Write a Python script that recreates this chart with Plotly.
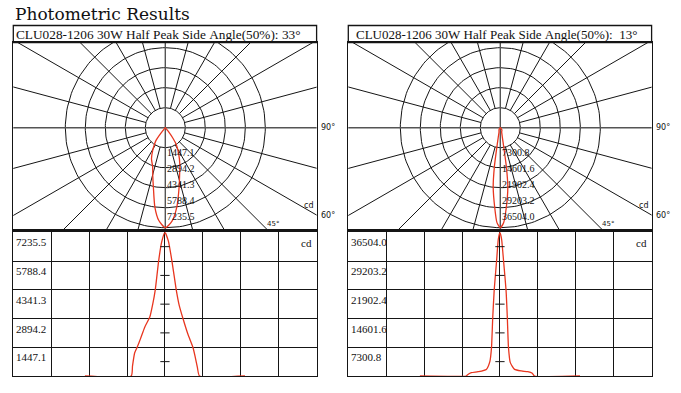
import numpy as np
import plotly.graph_objects as go

W, H = 681, 393

page_title = "Photometric Results"
header_a = "CLU028-1206 30W Half Peak Side Angle(50%): 33°"
header_b = "CLU028-1206 30W Half Peak Side Angle(50%):  13°"
unit = "cd"
angle_labels = ["90°", "60°", "45°"]

# Lamp A (33 deg beam) - angle (deg) vs intensity (cd)
angles_a = [-95, -40, -38.5, -36, -33, -29, -24, -18, -14.5, -11.5, -7.5, -4, 0,
            4, 8.3, 13.4, 17, 21.4, 27.3, 33.2, 36, 38.5, 41, 95]
cd_a = [0, 0, 506, 1158, 1447, 1881, 2460, 2967, 3618, 4341, 5788, 6729, 7235.5,
        6801, 5788, 4341, 3545, 2894, 2098, 1447, 941, 434, 0, 0]
peak_a = 7235.5
scale_a = ["1447.1", "2894.2", "4341.3", "5788.4", "7235.5"]

# Lamp B (13 deg beam)
angles_b = [-95, -40, -38.8, -34, -26, -16.2, -12, -10, -8.6, -6.8, -4, -2, 0,
            2, 4.3, 7.2, 8.8, 10.1, 12.3, 17.4, 25.3, 33, 38.4, 41, 95]
cd_b = [0, 0, 256, 840, 1095, 1679, 3650, 7301, 14602, 21902, 29203, 34679, 36504,
        34679, 29203, 21902, 14602, 7301, 3395, 1679, 1278, 1095, 694, 0, 0]
peak_b = 36504.0
scale_b = ["7300.8", "14601.6", "21902.4", "29203.2", "36504.0"]

ring_radii = [20, 40, 60, 80, 100]
spoke_step = 15

RED = "#e8361f"
INK = "#151515"
FONT = "Liberation Serif"

# geometry (pixels)
X0, X1, CX = 13.3, 316.6, 165.3
TT, TB = 25.5, 42.5
PB, CY = 229.3, 127.7
LT, LB = 232.3, 376.0
OFFSET = 335


def fx(p):
    return p / W


def fy(p):
    return 1 - p / H


panels = [
    dict(dx=0, header=header_a, hx=1, hs=13.3, ang=angles_a, cd=cd_a, peak=peak_a, scale=scale_a),
    dict(dx=OFFSET, header=header_b, hx=6, hs=13, ang=angles_b, cd=cd_b, peak=peak_b, scale=scale_b),
]

fig = go.Figure()
layout = dict(width=W, height=H, margin=dict(l=0, r=0, t=0, b=0),
              paper_bgcolor="white", plot_bgcolor="white", showlegend=False)
annotations = []
shapes = []

annotations.append(dict(text=page_title, x=fx(13), y=fy(14), xref="paper", yref="paper",
                        xanchor="left", yanchor="middle", showarrow=False,
                        font=dict(family="DejaVu Serif", size=17, color="#111")))

n = 0
for p in panels:
    dx = p["dx"]
    # ---- header box
    shapes.append(dict(type="rect", xref="paper", yref="paper",
                       x0=fx(X0 + dx), x1=fx(X1 + dx), y0=fy(TB), y1=fy(TT),
                       line=dict(color=INK, width=1.3)))
    annotations.append(dict(text=p["header"].replace(" ", "\u00a0"), x=fx(X0 + dx + p["hx"]),
                            y=fy(34), xref="paper", yref="paper", xanchor="left",
                            yanchor="middle", showarrow=False,
                            font=dict(family=FONT, size=p["hs"], color="#111")))

    # ---- polar subplot
    n += 1
    xr = "x" if n == 1 else f"x{n}"
    yr = "y" if n == 1 else f"y{n}"
    xk = "xaxis" if n == 1 else f"xaxis{n}"
    yk = "yaxis" if n == 1 else f"yaxis{n}"
    left, right = X0 - CX, X1 - CX
    top, bottom = CY - TB, -(PB - CY)
    common = dict(showgrid=False, zeroline=False, showticklabels=False, ticks="",
                  showline=True, mirror=True, linecolor=INK, linewidth=1.3, fixedrange=True)
    layout[xk] = dict(domain=[fx(X0 + dx), fx(X1 + dx)], range=[left, right], anchor=yr, **common)
    layout[yk] = dict(domain=[fy(PB), fy(TB)], range=[bottom, top], anchor=xr, **common)

    t = np.radians(np.arange(0, 361, 2))
    for r in ring_radii:
        fig.add_trace(go.Scatter(x=r * np.sin(t), y=r * np.cos(t), mode="lines",
                                 line=dict(color=INK, width=1), xaxis=xr, yaxis=yr,
                                 hoverinfo="skip"))
    for a in range(0, 360, spoke_step):
        ar = np.radians(a)
        if a % 90 == 0:
            r0, col, wd = 0, "#555", 1.4
        else:
            r0, col, wd = ring_radii[0], INK, 1
        fig.add_trace(go.Scatter(x=[r0 * np.sin(ar), 400 * np.sin(ar)],
                                 y=[r0 * np.cos(ar), 400 * np.cos(ar)], mode="lines",
                                 line=dict(color=col, width=wd), xaxis=xr, yaxis=yr,
                                 hoverinfo="skip"))
    th = np.radians(np.array(p["ang"], dtype=float))
    rr = np.array(p["cd"], dtype=float) / p["peak"] * ring_radii[-1]
    fig.add_trace(go.Scatter(x=rr * np.sin(th), y=-rr * np.cos(th), mode="lines",
                             line=dict(color=RED, width=1.3, shape="spline", smoothing=0.6),
                             xaxis=xr, yaxis=yr))
    for k, lab in enumerate(p["scale"]):
        frac = (k + 1) / len(p["scale"])
        annotations.append(dict(text=lab, x=0, y=-(frac * 80 + 9.3), xref=xr, yref=yr,
                                xanchor="left", yanchor="middle", xshift=0, showarrow=False,
                                font=dict(family=FONT, size=10, color="#111")))
    y60 = -right * np.tan(np.radians(30))
    annotations.append(dict(text=angle_labels[0], x=right, y=0, xref=xr, yref=yr,
                            xanchor="left", yanchor="middle", xshift=2, showarrow=False,
                            font=dict(family="DejaVu Sans", size=8, color="#111")))
    annotations.append(dict(text=angle_labels[1], x=right, y=y60, xref=xr, yref=yr,
                            xanchor="left", yanchor="middle", xshift=2, showarrow=False,
                            font=dict(family="DejaVu Sans", size=8, color="#111")))
    annotations.append(dict(text=angle_labels[2], x=-bottom, y=bottom, xref=xr, yref=yr,
                            xanchor="left", yanchor="bottom", xshift=-2, yshift=-1, showarrow=False,
                            font=dict(family="DejaVu Sans", size=7, color="#111")))
    annotations.append(dict(text=unit, x=right, y=y60, xref=xr, yref=yr,
                            xanchor="right", yanchor="bottom", xshift=-2, yshift=3, showarrow=False,
                            font=dict(family="DejaVu Sans", size=8, color="#111")))

    # ---- linear subplot
    n += 1
    xr = f"x{n}"
    yr = f"y{n}"
    xk = f"xaxis{n}"
    yk = f"yaxis{n}"
    lin = dict(zeroline=False, showticklabels=False, ticks="", showline=True, mirror=True,
               linecolor=INK, linewidth=1.3, showgrid=True, gridcolor=INK, gridwidth=1,
               fixedrange=True)
    layout[xk] = dict(domain=[fx(X0 + dx), fx(X1 + dx)], range=[-180, 180], tick0=0, dtick=45,
                      anchor=yr, **lin)
    layout[yk] = dict(domain=[fy(LB), fy(LT)], range=[0, p["peak"]], tick0=0,
                      dtick=p["peak"] / 5, anchor=xr, **lin)
    fig.add_trace(go.Scatter(x=p["ang"], y=p["cd"], mode="lines",
                             line=dict(color=RED, width=1.3, shape="spline", smoothing=0.5),
                             xaxis=xr, yaxis=yr, cliponaxis=True))
    for k, lab in enumerate(p["scale"]):
        v = p["peak"] * (k + 1) / len(p["scale"])
        annotations.append(dict(text=lab, x=-180, y=v, xref=xr, yref=yr, xanchor="left",
                                yanchor="top", xshift=1, yshift=-2, showarrow=False,
                                font=dict(family=FONT, size=11, color="#111")))
        vm = p["peak"] * (k + 0.5) / len(p["scale"])
        shapes.append(dict(type="line", xref=xr, yref=yr, x0=-5.5, x1=5.5, y0=vm, y1=vm,
                           line=dict(color=INK, width=1)))
    annotations.append(dict(text=unit, x=180, y=p["peak"], xref=xr, yref=yr, xanchor="right",
                            yanchor="top", xshift=-3, yshift=-3, showarrow=False,
                            font=dict(family=FONT, size=11, color="#111")))

layout["annotations"] = annotations
layout["shapes"] = shapes
fig.update_layout(**layout)
fig.write_html("out.html", config={"displayModeBar": False, "staticPlot": True})

# remove default page margin so the figure sits at the window origin
with open("out.html", "r", encoding="utf-8") as fh:
    html = fh.read()
html = html.replace("<body>", '<body style="margin:0;padding:0;overflow:hidden">', 1)
with open("out.html", "w", encoding="utf-8") as fh:
    fh.write(html)
